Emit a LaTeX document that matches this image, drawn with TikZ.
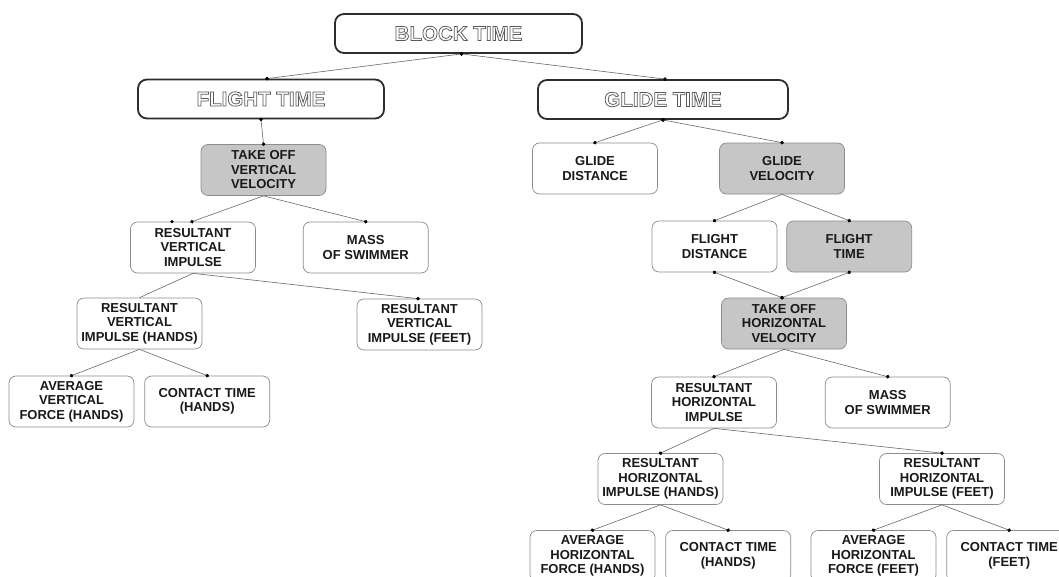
\documentclass[tikz,border=0pt]{standalone}
\usepackage{fontspec}
\setmainfont{Liberation Sans}
\usepackage{xcolor}
\usetikzlibrary{arrows.meta,positioning}

\definecolor{keygray}{RGB}{198,198,198}
\definecolor{linkgray}{RGB}{105,105,105}
\definecolor{framegray}{RGB}{140,140,140}
\definecolor{framedark}{RGB}{45,45,45}

% hollow letters for the three time boxes
\newcommand{\hollow}[1]{\special{pdf:literal direct 1 Tr 0.75 w 0.35 G}#1\special{pdf:literal direct 0 Tr 0 G}}

\begin{document}
\begin{tikzpicture}[x=1pt, y=-1pt,
                font=\fontsize{13}{14.5}\selectfont\bfseries,
                timebox/.style={draw=framedark, line width=1.8pt, rounded corners=9pt, minimum width=246pt, minimum height=39pt, inner sep=0pt, font=\fontsize{20.5}{22}\selectfont\bfseries},
                factor/.style={draw=framegray, line width=0.7pt, rounded corners=7pt, align=center, minimum width=125pt, minimum height=51pt, inner sep=0pt, text=black!90},
                keyfactor/.style={factor, fill=keygray},
                plain/.style={draw=linkgray, line width=0.6pt},
                link/.style={plain, -{Circle[length=3.6pt, color=black]}, shorten >=-1.8pt},
                dlink/.style={plain, {Circle[length=3.6pt, color=black]}-{Circle[length=3.6pt, color=black]}, shorten >=-1.8pt, shorten <=-1.8pt}
            ]
            \path[use as bounding box, fill=white] (0,0) rectangle (1059,576);
            \clip (0,0) rectangle (1059,576);
            % top level
            \node[timebox, minimum width=247pt] (block) at (458.5,33.5) {\hollow{BLOCK TIME}};
            \node[timebox] (flight) at (261,99) {\hollow{FLIGHT TIME}};
            \node[timebox, minimum width=250pt] (glide) at (663,99.5) {\hollow{GLIDE TIME}};
            % flight time branch
            \node[keyfactor] (tovv) at (263.5,170) {TAKE OFF\\VERTICAL\\VELOCITY};
            \node[factor] (rvi) at (193,247.5) {RESULTANT\\VERTICAL\\IMPULSE};
            \node[factor, right=47pt of rvi] (massv) {MASS\\OF SWIMMER};
            \node[factor] (rvih) at (139.5,323.5) {RESULTANT\\VERTICAL\\IMPULSE (HANDS)};
            \node[factor] (rvif) at (419.5,324.5) {RESULTANT\\VERTICAL\\IMPULSE (FEET)};
            \node[factor] (avfh) at (71.5,401.5) {AVERAGE\\VERTICAL\\FORCE (HANDS)};
            \node[factor, right=10pt of avfh] (cth) {CONTACT TIME\\(HANDS)};
            % glide time branch
            \node[factor] (gd) at (595,168.5) {GLIDE\\DISTANCE};
            \node[keyfactor] (gv) at (782,168.5) {GLIDE\\VELOCITY};
            \node[factor] (fd) at (714.5,246.5) {FLIGHT\\DISTANCE};
            \node[keyfactor, right=9pt of fd] (ft) {FLIGHT\\TIME};
            \node[keyfactor] (tohv) at (784,323.5) {TAKE OFF\\HORIZONTAL\\VELOCITY};
            \node[factor] (rhi) at (714,402.5) {RESULTANT\\HORIZONTAL\\IMPULSE};
            \node[factor, right=48pt of rhi] (massh) {MASS\\OF SWIMMER};
            \node[factor] (rhih) at (660.5,479) {RESULTANT\\HORIZONTAL\\IMPULSE (HANDS)};
            \node[factor] (rhif) at (942,479) {RESULTANT\\HORIZONTAL\\IMPULSE (FEET)};
            \node[factor] (ahfh) at (592.5,556) {AVERAGE\\HORIZONTAL\\FORCE (HANDS)};
            \node[factor, right=10pt of ahfh] (cthh) {CONTACT TIME\\(HANDS)};
            \node[factor] (ahff) at (873.5,556) {AVERAGE\\HORIZONTAL\\FORCE (FEET)};
            \node[factor, right=10pt of ahff] (ctf) {CONTACT TIME\\(FEET)};
            % connectors
            \draw[dlink] ([xshift=3pt]block.south) -- ([xshift=6pt]flight.north);
            \draw[dlink] ([xshift=3pt]block.south) -- ([xshift=2pt]glide.north);
            \draw[dlink] (flight.south) -- (tovv.north);
            \draw[link] (tovv.south) -- ([xshift=-1pt]rvi.north);
            \draw[link] (tovv.south) -- (massv.north);
            \fill ([xshift=-21pt]rvi.north) circle (1.8pt);
            \draw[plain] (rvi.south) -- (rvih.north);
            \draw[link] (rvi.south) -- ([xshift=-1.5pt]rvif.north);
            \draw[link] (rvih.south) -- (avfh.north);
            \draw[link] (rvih.south) -- (cth.north);
            \draw[dlink] (glide.south) -- (gd.north);
            \draw[dlink] (glide.south) -- (gv.north);
            \draw[link] (gv.south) -- (fd.north);
            \draw[link] (gv.south) -- (ft.north);
            \draw[dlink] (fd.south) -- ([xshift=-2pt]tohv.north);
            \draw[dlink] (ft.south) -- ([xshift=-2pt]tohv.north);
            \draw[link] (tohv.south) -- (rhi.north);
            \draw[link] (tohv.south) -- (massh.north);
            \draw[link] (rhi.south) -- (rhih.north);
            \draw[link] (rhi.south) -- (rhif.north);
            \draw[link] (rhih.south) -- (ahfh.north);
            \draw[link] (rhih.south) -- (cthh.north);
            \draw[link] (rhif.south) -- (ahff.north);
            \draw[link] (rhif.south) -- (ctf.north);
        \end{tikzpicture}
\end{document}
